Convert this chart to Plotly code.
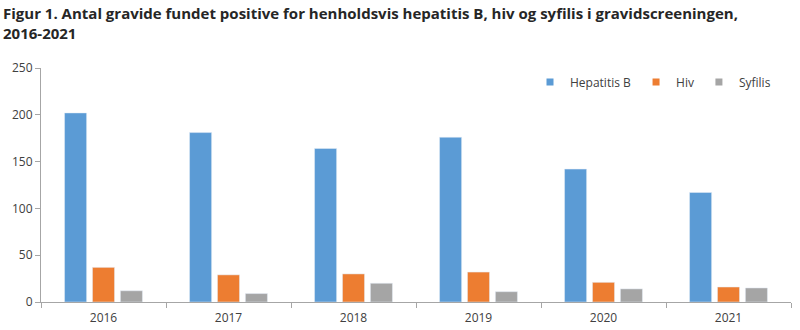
import plotly.graph_objects as go

years = ["2016", "2017", "2018", "2019", "2020", "2021"]
hepatitis_b = [202, 181, 164, 176, 142, 117]
hiv = [37, 29, 30, 32, 21, 16]
syfilis = [12, 9, 20, 11, 14, 15]

series = [("Hepatitis B", hepatitis_b, "#5B9BD5"),
          ("Hiv", hiv, "#ED7D31"),
          ("Syfilis", syfilis, "#A5A5A5")]

title_text = ("<b>Figur 1. Antal gravide fundet positive for henholdsvis hepatitis B, hiv og syfilis "
              "i gravidscreeningen,<br>2016-2021</b>")

font_family = "Open Sans, sans-serif"

fig = go.Figure()
for name, vals, color in series:
    fig.add_trace(go.Bar(x=years, y=vals, name=name, marker_color=color,
                         showlegend=False))
for name, vals, color in series:
    fig.add_trace(go.Scatter(x=[None], y=[None], name=name, mode="markers",
                             marker=dict(symbol="square", size=7, color=color),
                             showlegend=True))

fig.add_annotation(text=title_text, xref="paper", yref="paper",
                   x=-0.053, y=1.285, xanchor="left", yanchor="top",
                   align="left", showarrow=False,
                   font=dict(family=font_family, size=15, color="#262626"))

fig.update_layout(
    width=800, height=330,
    margin=dict(l=41, r=9, t=68, b=28),
    paper_bgcolor="white", plot_bgcolor="white",
    barmode="group", bargap=0.33, bargroupgap=0.21,
    font=dict(family=font_family, size=12, color="#404040"),
    legend=dict(orientation="h", x=0.98, xanchor="right", y=0.94, yanchor="middle",
                font=dict(size=12, color="#404040"), itemwidth=30,
                bgcolor="rgba(0,0,0,0)"),
    xaxis=dict(type="category", showline=True, linecolor="#A6A6A6", linewidth=1,
               ticks="outside", tickson="boundaries", ticklen=5, tickcolor="#A6A6A6",
               showgrid=False, tickfont=dict(size=12, color="#404040"),
               ticklabelstandoff=5, automargin=False),
    yaxis=dict(range=[0, 250], dtick=50, showline=True, linecolor="#A6A6A6", linewidth=1,
               ticks="outside", ticklen=5, tickcolor="#A6A6A6", showgrid=False,
               zeroline=False, tickfont=dict(size=12, color="#404040"), automargin=False),
)

fig.write_html("out.html")
